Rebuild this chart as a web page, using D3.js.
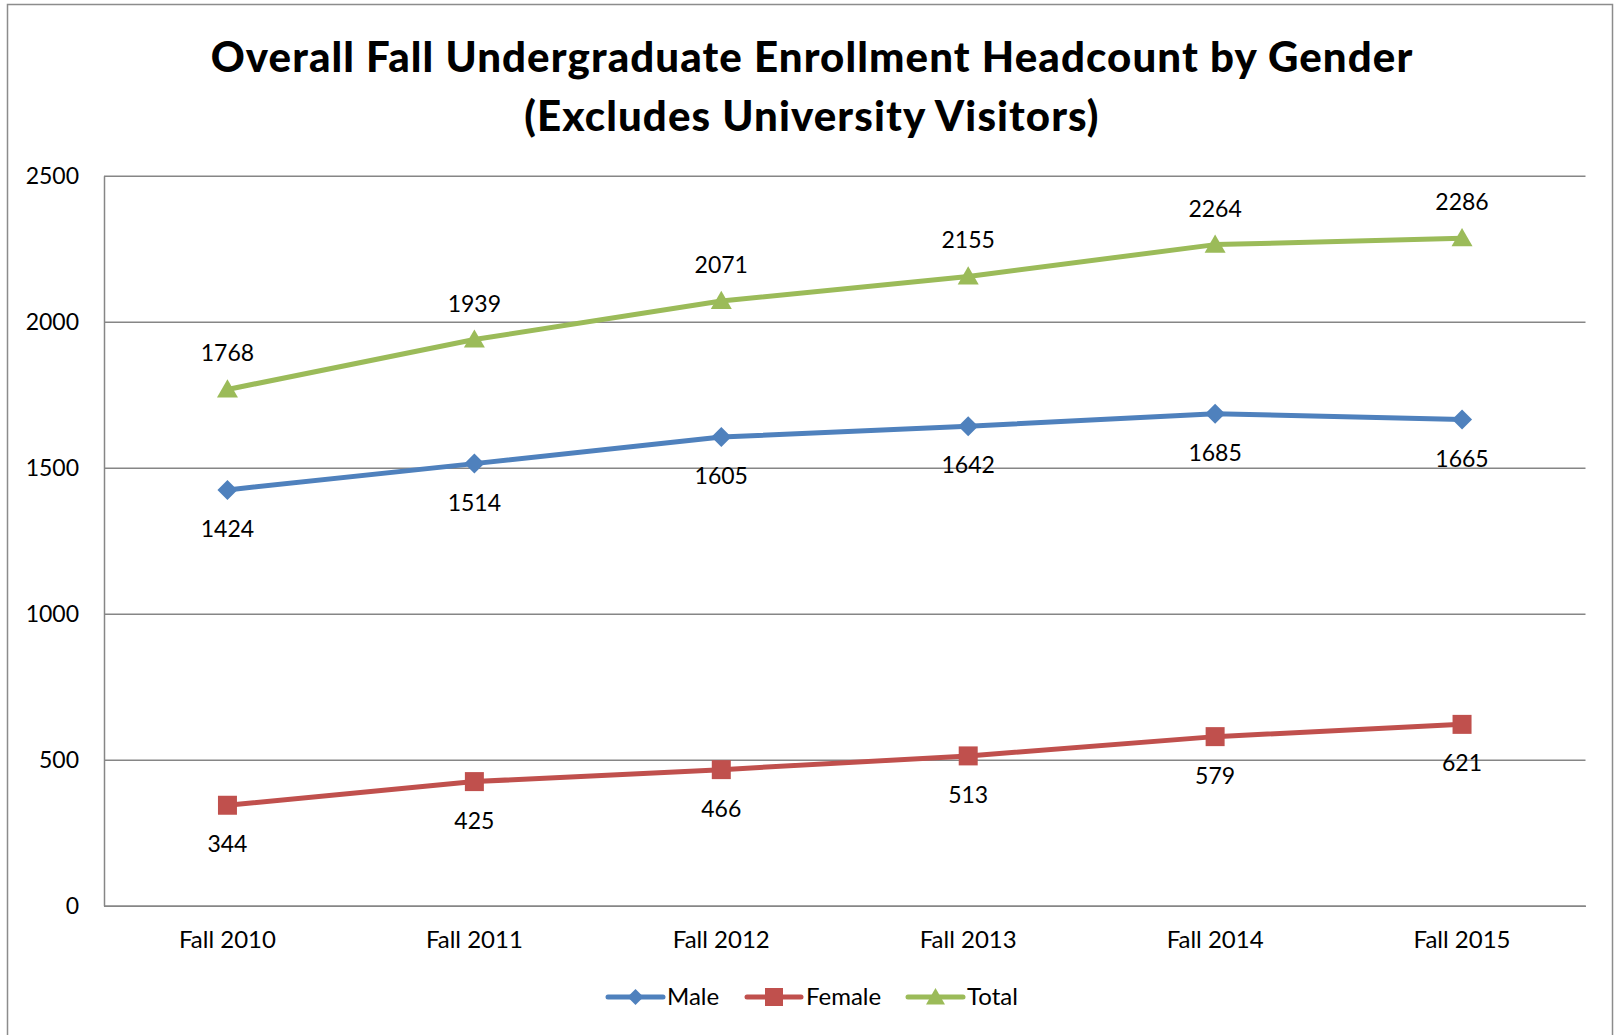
<!DOCTYPE html>
<html>
<head>
<meta charset="utf-8">
<script src="https://cdn.jsdelivr.net/npm/d3@7"></script>
<style>
html,body{margin:0;padding:0;background:#fff;}
svg{display:block;}
text{font-family:Lato,"Open Sans",sans-serif;fill:#000;}
</style>
</head>
<body>
<svg id="chart" width="1614" height="1035"></svg>
<script>
const categories = ["Fall 2010","Fall 2011","Fall 2012","Fall 2013","Fall 2014","Fall 2015"];
const maleValues = [1424,1514,1605,1642,1685,1665];
const femaleValues = [344,425,466,513,579,621];
const totalValues = [1768,1939,2071,2155,2264,2286];
const yTickValues = [0,500,1000,1500,2000,2500];
const seriesNames = ["Male","Female","Total"];
const titleLines = ["Overall Fall Undergraduate Enrollment Headcount by Gender","(Excludes University Visitors)"];

const series = [
  {name: seriesNames[0], values: maleValues, color: "#4F81BD", marker: "diamond", labelPos: "below"},
  {name: seriesNames[1], values: femaleValues, color: "#C0504D", marker: "square", labelPos: "below"},
  {name: seriesNames[2], values: totalValues, color: "#9BBB59", marker: "triangle", labelPos: "above"}
];

const svg = d3.select("#chart");
const plot = {left: 104, right: 1585.5, top: 175.7, bottom: 905.7};

// outer chart border
svg.append("rect").attr("x", 7.5).attr("y", 4.5).attr("width", 1605).attr("height", 1040)
  .attr("fill", "#fff").attr("stroke", "#8c8c8c").attr("stroke-width", 1.5);

// title
svg.append("text")
  .attr("text-anchor", "middle")
  .style("font-weight", "900").style("font-size", "42px").style("letter-spacing", "1.1px")
  .selectAll("tspan").data(titleLines).join("tspan")
  .attr("x", 812)
  .attr("y", (d, i) => 72 + i * 59)
  .text(d => d);

const x = d3.scaleBand().domain(categories).range([plot.left, plot.right]);
const cx = c => x(c) + x.bandwidth() / 2;
const y = d3.scaleLinear().domain([0, 2500]).range([plot.bottom, plot.top]);

// gridlines
const grid = svg.append("g").attr("transform", `translate(${plot.left},0)`)
  .call(d3.axisLeft(y).tickValues(yTickValues).tickSize(-(plot.right - plot.left)).tickFormat(""));
grid.select(".domain").remove();
grid.selectAll("line").attr("stroke", "#868686").attr("stroke-width", 1.5);

// y axis
const yAxis = svg.append("g").attr("transform", `translate(${plot.left},0)`)
  .call(d3.axisLeft(y).tickValues(yTickValues).tickSize(0).tickPadding(25).tickFormat(d3.format("d")));
yAxis.select(".domain").attr("stroke", "#868686").attr("stroke-width", 1.5);
yAxis.selectAll("text").style("font-size", "23px").attr("font-family", null).attr("fill", "#000");

// x axis
const xAxis = svg.append("g").attr("transform", `translate(0,${plot.bottom})`)
  .call(d3.axisBottom(x).tickSize(0).tickPadding(25));
xAxis.select(".domain").attr("stroke", "#868686").attr("stroke-width", 1.5);
xAxis.selectAll("text").style("font-size", "24px").attr("font-family", null).attr("fill", "#000");

// markers
function markerPath(type, w) {
  if (type === "diamond") return d3.symbol().type(d3.symbolSquare).size(w * w / 2)();
  if (type === "square") return d3.symbol().type(d3.symbolSquare).size(w * w)();
  return d3.symbol().type(d3.symbolTriangle).size(w * w * Math.sqrt(3) / 4)();
}
function markerTransform(type, px, py) {
  if (type === "diamond") return `translate(${px},${py}) rotate(45)`;
  if (type === "triangle") return `translate(${px},${py + 2})`;
  return `translate(${px},${py})`;
}

// lines, markers, labels
const line = d3.line().x((d, i) => cx(categories[i])).y(d => y(d));

series.forEach(s => {
  const g = svg.append("g");
  g.append("path").datum(s.values).attr("d", line)
    .attr("fill", "none").attr("stroke", s.color).attr("stroke-width", 5)
    .attr("stroke-linejoin", "round").attr("stroke-linecap", "round");
  const w = s.marker === "diamond" ? 20 : (s.marker === "square" ? 19 : 21);
  g.selectAll(".m").data(s.values).join("path")
    .attr("transform", (d, i) => markerTransform(s.marker, cx(categories[i]), y(d)))
    .attr("d", markerPath(s.marker, w)).attr("fill", s.color);
  g.selectAll(".lbl").data(s.values).join("text")
    .attr("x", (d, i) => cx(categories[i]))
    .attr("y", d => y(d) + (s.labelPos === "above" ? -36 : 39))
    .attr("dy", "0.35em")
    .attr("text-anchor", "middle").style("font-size", "23px")
    .text(d => d);
});

// legend
const legendItems = [
  {x0: 608, x1: 663, tx: 667},
  {x0: 747, x1: 801, tx: 806},
  {x0: 908, x1: 963, tx: 967}
];
const ly = 997;
series.forEach((s, i) => {
  const li = legendItems[i];
  const g = svg.append("g");
  g.append("line").attr("x1", li.x0).attr("x2", li.x1).attr("y1", ly).attr("y2", ly)
    .attr("stroke", s.color).attr("stroke-width", 5).attr("stroke-linecap", "round");
  const w = s.marker === "diamond" ? 16 : (s.marker === "square" ? 18 : 19);
  g.append("path").attr("transform", markerTransform(s.marker, (li.x0 + li.x1) / 2, ly))
    .attr("d", markerPath(s.marker, w)).attr("fill", s.color);
  g.append("text").attr("x", li.tx).attr("y", ly).attr("dy", "0.35em")
    .style("font-size", "24px").text(s.name);
});
</script>
</body>
</html>
